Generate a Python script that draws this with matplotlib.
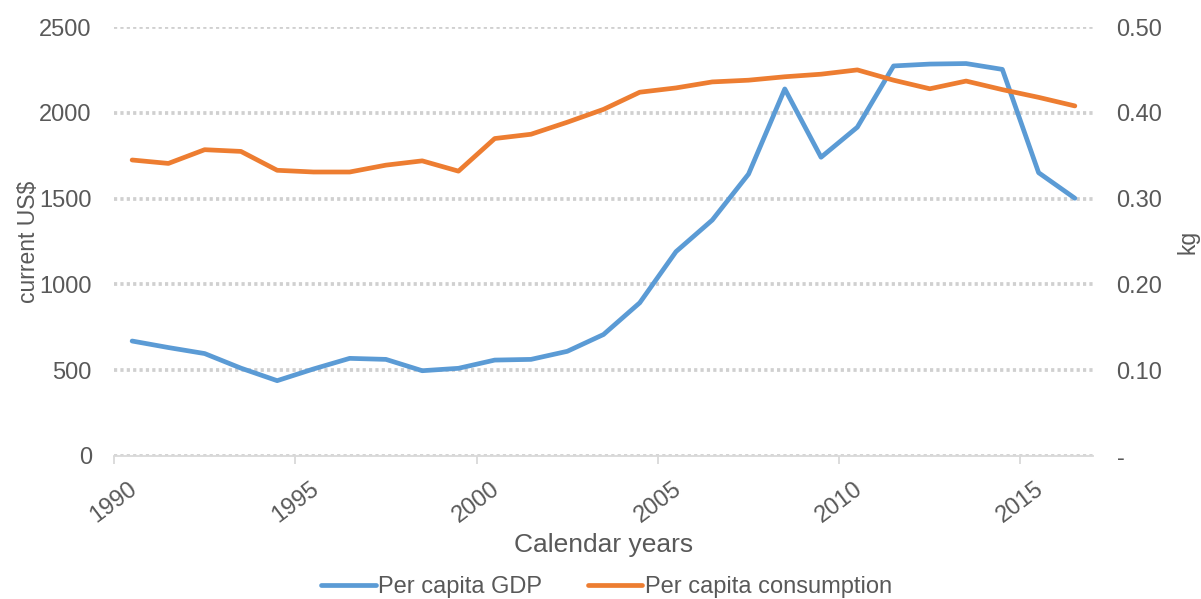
import matplotlib.pyplot as plt
from matplotlib.ticker import FuncFormatter

plt.rcParams['font.family'] = ['Liberation Sans', 'DejaVu Sans']

years = list(range(1990, 2017))
gdp = [670, 632, 597, 512, 439, 507, 569, 563, 497, 511, 559, 563, 610, 708,
       893, 1191, 1375, 1643, 2139, 1741, 1916, 2273, 2284, 2287, 2253, 1651, 1502]
consumption = [0.345, 0.341, 0.357, 0.355, 0.333, 0.331, 0.331, 0.339, 0.344, 0.332,
               0.370, 0.375, 0.389, 0.404, 0.424, 0.429, 0.436, 0.438, 0.442, 0.445,
               0.450, 0.438, 0.428, 0.437, 0.427, 0.418, 0.408]
xticks = [1990, 1995, 2000, 2005, 2010, 2015]

txt = '#595959'
grid_c = '#d9d9d9'

fig = plt.figure(figsize=(12.01, 5.99), dpi=100)
ax = fig.add_axes([114 / 1201, 1 - 456 / 599, (1093 - 114) / 1201, (456 - 27) / 599])
ax2 = ax.twinx()

x = [y + 0.5 for y in years]
l1, = ax.plot(x, gdp, color='#5B9BD5', lw=3.4, solid_joinstyle='round',
              solid_capstyle='round', label='Per capita GDP', zorder=3)
l2, = ax2.plot(x, consumption, color='#ED7D31', lw=3.4, solid_joinstyle='round',
               solid_capstyle='round', label='Per capita consumption', zorder=3)

ax.set_xlim(1990, 2017)
ax.set_ylim(0, 2500)
ax2.set_ylim(0, 0.5)
ax.set_yticks(range(0, 2501, 500))
ax2.set_yticks([0, 0.1, 0.2, 0.3, 0.4, 0.5])
ax2.yaxis.set_major_formatter(FuncFormatter(lambda v, p: '-' if v == 0 else f'{v:.2f}'))
ax.set_xticks(xticks)
ax.set_xticklabels([str(t) for t in xticks], rotation=37, ha='center')

for a in (ax, ax2):
    for s in a.spines.values():
        s.set_visible(False)
ax.spines['bottom'].set_visible(True)
ax.spines['bottom'].set_color(grid_c)
ax.spines['bottom'].set_linewidth(1.3)

# dotted horizontal gridlines like Excel's "square dot"
ax.yaxis.grid(True, color='#d0d0d0', lw=2.7, linestyle=(0, (0.85, 0.85)))
ax.set_axisbelow(True)

ax.tick_params(axis='y', length=0, pad=16, labelsize=17, labelcolor=txt)
ax2.tick_params(axis='y', length=0, pad=17, labelsize=17, labelcolor=txt)
ax.tick_params(axis='x', length=6, width=1.3, color=grid_c, pad=10,
               labelsize=17, labelcolor=txt)

ax.set_xlabel('Calendar years', fontsize=19, color=txt, labelpad=4)
ax.set_ylabel('current US$', fontsize=16.5, color=txt)
ax2.set_ylabel('kg', fontsize=16.5, color=txt)
ax.yaxis.set_label_coords(-0.076, 0.5)
ax2.yaxis.set_label_coords(1.085, 0.5)

fig.legend(handles=[l1, l2], loc='center', bbox_to_anchor=(0.505, 1 - 587 / 599),
           ncol=2, frameon=False, fontsize=17, labelcolor=txt,
           handlelength=2.3, handletextpad=0.1, columnspacing=1.95)

fig.savefig('out.png', dpi=100)
